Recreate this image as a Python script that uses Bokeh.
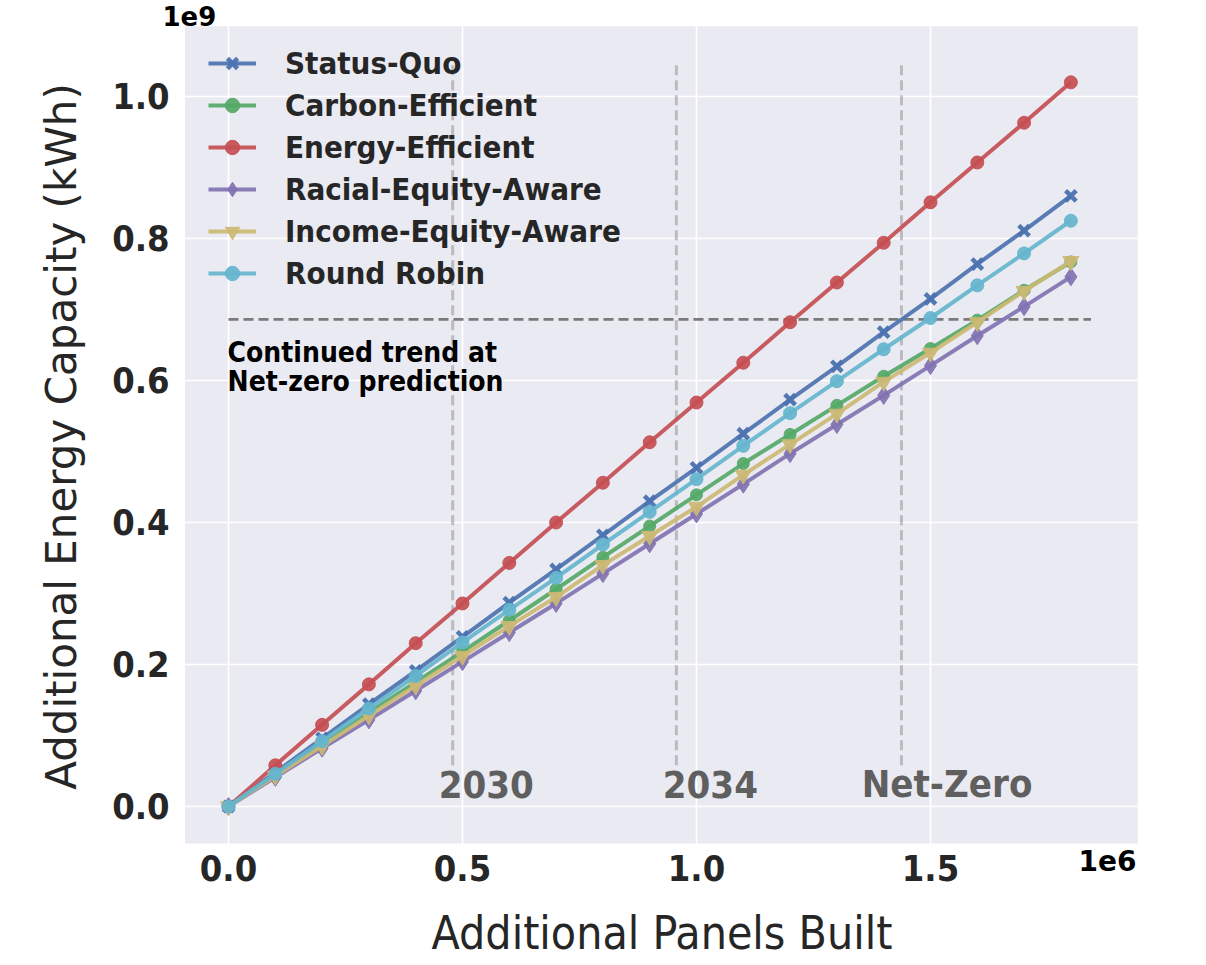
from bokeh.plotting import figure
from bokeh.models import FixedTicker, PrintfTickFormatter, Label, Legend, LegendItem
from bokeh.embed import file_html
from bokeh.resources import INLINE

# ---------------- data (x in units of 1e6 panels, y in units of 1e9 kWh) -------------
panels = [0.0, 0.1, 0.2, 0.3, 0.4, 0.5, 0.6, 0.7, 0.8, 0.9,
          1.0, 1.1, 1.2, 1.3, 1.4, 1.5, 1.6, 1.7, 1.8]

status_quo = [0.0, 0.048, 0.096, 0.144, 0.191, 0.239, 0.287, 0.334, 0.382, 0.430,
              0.477, 0.525, 0.573, 0.620, 0.668, 0.715, 0.764, 0.811, 0.860]
carbon_efficient = [0.0, 0.044, 0.088, 0.132, 0.175, 0.218, 0.262, 0.306, 0.351, 0.395,
                    0.439, 0.483, 0.524, 0.565, 0.606, 0.645, 0.685, 0.727, 0.767]
energy_efficient = [0.0, 0.058, 0.115, 0.172, 0.230, 0.286, 0.343, 0.400, 0.456, 0.513,
                    0.569, 0.625, 0.682, 0.738, 0.794, 0.851, 0.907, 0.963, 1.020]
racial_equity = [0.0, 0.041, 0.082, 0.122, 0.163, 0.204, 0.245, 0.286, 0.328, 0.370,
                 0.412, 0.454, 0.497, 0.538, 0.579, 0.621, 0.663, 0.704, 0.746]
income_equity = [0.0, 0.043, 0.085, 0.128, 0.170, 0.212, 0.254, 0.295, 0.340, 0.381,
                 0.422, 0.467, 0.510, 0.553, 0.598, 0.639, 0.682, 0.726, 0.768]
round_robin = [0.0, 0.046, 0.092, 0.138, 0.184, 0.231, 0.277, 0.322, 0.369, 0.415,
               0.461, 0.508, 0.554, 0.599, 0.644, 0.688, 0.734, 0.779, 0.825]

series_names = ["Status-Quo", "Carbon-Efficient", "Energy-Efficient",
                "Racial-Equity-Aware", "Income-Equity-Aware", "Round Robin"]

milestone_x = [0.479, 0.957, 1.438]
milestone_labels = ["2030", "2034", "Net-Zero"]
milestone_label_x = [0.449, 0.928, 1.353]
milestone_y_range = [0.058, 1.045]

trend_y = 0.686
trend_x_range = [0.0, 1.843]
trend_text = ["Continued trend at", "Net-zero prediction"]
trend_text_y = [0.6400, 0.5990]

x_ticks = [0.0, 0.5, 1.0, 1.5]
y_ticks = [0.0, 0.2, 0.4, 0.6, 0.8, 1.0]

# ---------------- styling -------------
COND = "DejaVu Sans Condensed"
NORM = "DejaVu Sans"
TXT = "#262626"
AX_BG = "#EAEAF2"

# visible (grey) axes area; the Bokeh frame is a little larger so that the
# offset texts "1e9" / "1e6" outside the grey area are not clipped
AREA_X = (-0.093, 1.943)
AREA_Y = (-0.052, 1.099)

colors = ["#4C72B0", "#55A868", "#C44E52", "#8172B2", "#CCB974", "#64B5CD"]
markers = ["x", "circle", "circle", "diamond", "inverted_triangle", "circle"]
msizes = [15, 12, 13, 18, 16, 13]

p = figure(width=1200, height=964, output_backend="svg", toolbar_location=None,
           x_range=(-0.1453, 1.9979), y_range=(-0.09297, 1.1352),
           min_border_left=160, min_border_right=37, min_border_top=0,
           min_border_bottom=92)
p.background_fill_color = "white"
p.border_fill_color = "white"
p.outline_line_color = None

p.quad(left=[AREA_X[0]], right=[AREA_X[1]], bottom=[AREA_Y[0]], top=[AREA_Y[1]],
       fill_color=AX_BG, line_color=None, level="image")

p.xaxis.ticker = FixedTicker(ticks=x_ticks)
p.yaxis.ticker = FixedTicker(ticks=y_ticks)
p.xaxis.formatter = PrintfTickFormatter(format="%.1f")
p.yaxis.formatter = PrintfTickFormatter(format="%.1f")
p.grid.grid_line_color = "white"
p.grid.grid_line_width = 1.6

for ax in (p.xaxis, p.yaxis):
    ax.axis_line_color = None
    ax.major_tick_line_color = None
    ax.minor_tick_line_color = None
    ax.major_label_text_font = COND
    ax.major_label_text_font_style = "bold"
    ax.major_label_text_font_size = "36px"
    ax.major_label_text_color = TXT
    ax.axis_label_text_font_style = "normal"
    ax.axis_label_text_color = TXT

p.xaxis.major_label_standoff = -24
p.yaxis.major_label_standoff = -15
p.xaxis.axis_label = "Additional Panels Built"
p.xaxis.axis_label_text_font = COND
p.xaxis.axis_label_text_font_size = "46px"
p.xaxis.axis_label_standoff = 22
p.yaxis.axis_label = "Additional Energy Capacity (kWh)"
p.yaxis.axis_label_text_font = NORM
p.yaxis.axis_label_text_font_size = "42px"
p.yaxis.axis_label_standoff = 23

# reference lines
p.segment(x0=milestone_x, x1=milestone_x,
          y0=[milestone_y_range[0]] * len(milestone_x),
          y1=[milestone_y_range[1]] * len(milestone_x),
          line_color="#808080", line_alpha=0.45, line_width=3, line_dash="10 5")
p.line(trend_x_range, [trend_y, trend_y], line_color="#6e6e6e", line_alpha=0.9,
       line_width=2.8, line_dash="10 5")

all_series = [status_quo, carbon_efficient, energy_efficient,
              racial_equity, income_equity, round_robin]
items = []
for name, vals, col, mk, sz in zip(series_names, all_series, colors, markers, msizes):
    r1 = p.line(panels, vals, line_color=col, line_width=4, line_alpha=0.92)
    if mk == "x":
        r2 = p.scatter(panels, vals, marker=mk, size=sz, line_color=col,
                       line_width=4.5, alpha=0.95)
    else:
        r2 = p.scatter(panels, vals, marker=mk, size=sz, fill_color=col,
                       line_color=col, alpha=0.92)
    items.append(LegendItem(label=name, renderers=[r1, r2]))

legend = Legend(items=items, location=(28, 561))
legend.margin = 0
legend.padding = 20
legend.spacing = 6
legend.glyph_width = 48
legend.glyph_height = 36
legend.label_height = 36
legend.label_standoff = 29
legend.label_text_font = COND
legend.label_text_font_style = "bold"
legend.label_text_font_size = "31px"
legend.label_text_color = TXT
legend.background_fill_alpha = 0
legend.border_line_alpha = 0
p.add_layout(legend)

# milestone labels
for lx, lab in zip(milestone_label_x, milestone_labels):
    p.add_layout(Label(x=lx, y=0.0311, text=lab, text_font=COND,
                       text_font_style="bold", text_font_size="38px",
                       text_color="#5f5f5f", text_baseline="middle",
                       text_align="left"))

for t, ty in zip(trend_text, trend_text_y):
    p.add_layout(Label(x=-0.002, y=ty, text=t, text_font=COND,
                       text_font_style="bold", text_font_size="28px",
                       text_color="#000000", text_baseline="middle",
                       text_align="left"))

# scientific offset labels
p.add_layout(Label(x=-0.141, y=1.1127, text="1e9", text_font=NORM,
                   text_font_style="bold", text_font_size="26px",
                   text_color="#000000", text_baseline="middle", text_align="left"))
p.add_layout(Label(x=1.940, y=-0.0759, text="1e6", text_font=NORM,
                   text_font_style="bold", text_font_size="28px",
                   text_color="#000000", text_baseline="middle", text_align="right"))

open("out.html", "w").write(file_html(p, INLINE))
